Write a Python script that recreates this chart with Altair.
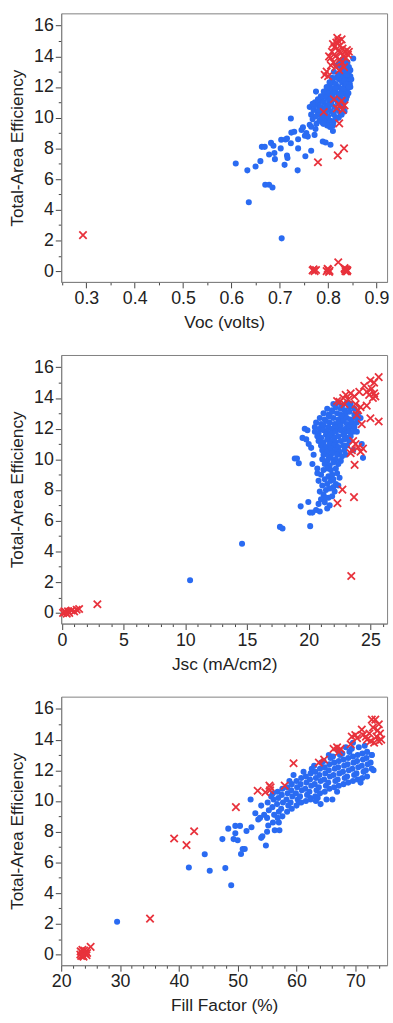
import altair as alt
import pandas as pd

# ---------------- Panel 1: Voc vs efficiency ----------------
blue_voc_pts = [
    (0.609, 7.02), (0.633, 6.57), (0.636, 4.49), (0.650, 6.82), (0.660, 7.17), (0.663, 8.1),
    (0.669, 8.1), (0.670, 5.63), (0.678, 5.63), (0.685, 5.45), (0.678, 7.6), (0.682, 8.36),
    (0.687, 8.17), (0.689, 7.7), (0.690, 7.3), (0.703, 8.56), (0.702, 8.0), (0.704, 2.14),
    (0.710, 6.93), (0.712, 8.58), (0.715, 8.64), (0.715, 7.53), (0.716, 7.38), (0.723, 9.95),
    (0.723, 8.34), (0.724, 9.03), (0.730, 9.09), (0.737, 6.57), (0.738, 8.0), (0.738, 8.6),
    (0.745, 9.2), (0.748, 9.37), (0.752, 8.83), (0.753, 7.49), (0.755, 9.0), (0.758, 8.77),
    (0.762, 9.54), (0.765, 7.85), (0.765, 9.41), (0.772, 8.88), (0.774, 9.26), (0.775, 11.7),
    (0.779, 10.2), (0.782, 10.7), (0.786, 9.84), (0.789, 8.45), (0.795, 8.39), (0.799, 9.73),
    (0.805, 8.24), (0.810, 9.13), (0.852, 13.86), (0.844, 12.7), (0.846, 12.0),
    (0.762, 10.7), (0.765, 10.2), (0.768, 9.9), (0.770, 10.5), (0.772, 10.8), (0.775, 10.1),
    (0.776, 9.6), (0.778, 10.4), (0.780, 11.0), (0.782, 9.8), (0.783, 10.3), (0.785, 10.7),
    (0.786, 11.2), (0.788, 9.7), (0.789, 10.1), (0.790, 10.5), (0.791, 11.0), (0.792, 11.5),
    (0.794, 9.9), (0.795, 10.3), (0.796, 10.8), (0.797, 11.3), (0.798, 11.8), (0.799, 9.6),
    (0.800, 10.1), (0.801, 10.6), (0.802, 11.1), (0.803, 11.6), (0.804, 12.0), (0.805, 9.8),
    (0.806, 10.4), (0.807, 10.9), (0.808, 11.4), (0.809, 11.9), (0.810, 12.3), (0.811, 9.7),
    (0.812, 10.2), (0.813, 10.7), (0.814, 11.2), (0.815, 11.7), (0.816, 12.2), (0.817, 12.6),
    (0.818, 10.0), (0.819, 10.5), (0.820, 11.0), (0.821, 11.5), (0.822, 12.0), (0.823, 12.5),
    (0.824, 12.9), (0.825, 10.3), (0.826, 10.8), (0.827, 11.3), (0.828, 11.8), (0.829, 12.3),
    (0.830, 12.8), (0.831, 13.2), (0.832, 10.6), (0.833, 11.1), (0.834, 11.6), (0.835, 12.1),
    (0.836, 12.6), (0.837, 13.0), (0.838, 13.4), (0.839, 11.4), (0.840, 11.9), (0.841, 12.4),
    (0.842, 12.9), (0.843, 13.3), (0.845, 12.2), (0.846, 12.7), (0.848, 12.5), (0.812, 13.0),
    (0.818, 13.4), (0.824, 13.6), (0.830, 13.8), (0.835, 13.5), (0.808, 12.6), (0.803, 12.3),
    (0.797, 12.0), (0.791, 11.7), (0.785, 11.4), (0.779, 11.2), (0.773, 11.0), (0.768, 10.9),
    (0.815, 9.9), (0.822, 10.0), (0.828, 10.2), (0.834, 10.4), (0.810, 9.5), (0.804, 9.4),
    (0.798, 9.5), (0.790, 9.6),
    (0.827, 12.6), (0.833, 12.4), (0.839, 12.8), (0.821, 12.8), (0.816, 11.9), (0.826, 11.6),
    (0.831, 11.9), (0.837, 12.2), (0.843, 12.0), (0.811, 11.6), (0.806, 11.2), (0.800, 10.8),
    (0.794, 10.6), (0.787, 10.0), (0.781, 10.5), (0.819, 11.2), (0.825, 11.0), (0.831, 10.9),
    (0.837, 11.2), (0.842, 11.6), (0.846, 13.1), (0.840, 13.6), (0.834, 13.1), (0.828, 13.3),
]
red_voc_pts = [
    (0.293, 2.35),
    (0.768, 0.05), (0.772, 0.0), (0.775, 0.08), (0.770, 0.12), (0.797, 0.0), (0.800, 0.1),
    (0.803, 0.02), (0.799, 0.15), (0.802, -0.05), (0.821, 0.58), (0.834, 0.2), (0.836, 0.0),
    (0.838, 0.1), (0.840, 0.05), (0.835, 0.12), (0.839, -0.02),
    (0.779, 7.1), (0.820, 7.55), (0.833, 8.0), (0.823, 9.63), (0.791, 10.37), (0.818, 10.6),
    (0.822, 10.9), (0.828, 11.1), (0.834, 10.8), (0.812, 11.2), (0.830, 10.5),
    (0.793, 12.8), (0.797, 13.0), (0.800, 12.7), (0.805, 13.9), (0.808, 14.3), (0.811, 13.6),
    (0.813, 14.6), (0.815, 14.0), (0.817, 14.9), (0.819, 15.2), (0.821, 15.0), (0.822, 14.4),
    (0.824, 13.8), (0.825, 14.7), (0.826, 14.2), (0.828, 15.1), (0.829, 13.6), (0.830, 14.5),
    (0.832, 14.0), (0.833, 13.3), (0.835, 14.3), (0.837, 13.9), (0.839, 14.4), (0.841, 14.1),
    (0.816, 13.3), (0.823, 13.1), (0.810, 14.8), (0.806, 13.4), (0.843, 14.3), (0.802, 14.0),
]

# ---------------- Panel 2: Jsc vs efficiency ----------------
blue_jsc_pts = [
    # dense core, row by row
    (22.0, 13.6), (22.4, 13.7), (22.7, 13.5), (23.1, 13.7), (23.4, 13.6),
    (21.5, 13.3), (21.9, 13.2), (22.2, 13.4), (22.6, 13.3), (22.9, 13.2), (23.3, 13.4), (23.7, 13.3),
    (21.2, 13.0), (21.6, 12.9), (21.9, 13.1), (22.3, 13.0), (22.6, 12.9), (23.0, 13.0),
    (23.3, 13.1), (23.7, 12.9), (24.0, 13.0),
    (20.9, 12.7), (21.3, 12.6), (21.7, 12.8), (22.0, 12.7), (22.4, 12.6), (22.7, 12.8),
    (23.1, 12.7), (23.4, 12.6), (23.8, 12.7),
    (20.6, 12.4), (21.0, 12.3), (21.4, 12.5), (21.7, 12.4), (22.1, 12.3), (22.4, 12.4),
    (22.8, 12.5), (23.1, 12.3), (23.5, 12.4), (23.9, 12.4),
    (20.5, 12.1), (20.9, 12.0), (21.2, 12.2), (21.6, 12.1), (21.9, 12.0), (22.3, 12.1),
    (22.6, 12.2), (23.0, 12.0), (23.3, 12.1), (23.7, 12.1),
    (20.5, 11.8), (20.8, 11.7), (21.2, 11.9), (21.5, 11.8), (21.9, 11.7), (22.2, 11.8),
    (22.6, 11.9), (22.9, 11.7), (23.3, 11.8), (23.6, 11.8),
    (20.7, 11.5), (21.0, 11.4), (21.4, 11.6), (21.7, 11.5), (22.1, 11.4), (22.4, 11.5),
    (22.8, 11.6), (23.1, 11.4), (23.4, 11.5),
    (20.8, 11.2), (21.2, 11.1), (21.5, 11.3), (21.9, 11.2), (22.2, 11.1), (22.6, 11.2),
    (22.9, 11.3), (23.3, 11.2),
    (21.0, 10.9), (21.4, 10.8), (21.7, 11.0), (22.1, 10.9), (22.4, 10.8), (22.8, 10.9), (23.1, 10.9),
    (21.1, 10.6), (21.5, 10.5), (21.8, 10.7), (22.2, 10.6), (22.5, 10.5), (22.9, 10.6),
    (21.2, 10.3), (21.6, 10.2), (21.9, 10.4), (22.3, 10.3), (22.7, 10.2), (23.0, 10.3),
    (21.1, 10.0), (21.5, 9.9), (21.8, 10.1), (22.2, 10.0), (22.6, 9.9),
    (21.3, 9.7), (21.7, 9.6), (22.0, 9.8), (22.4, 9.7),
    (21.5, 9.4), (21.8, 9.3), (22.2, 9.4),
    # lower tail
    (21.0, 9.0), (21.3, 8.7), (21.5, 8.4), (21.4, 8.0), (21.2, 7.7), (21.0, 7.4),
    (20.9, 7.9), (21.6, 8.9), (21.8, 8.6), (21.1, 8.3), (20.8, 7.1), (20.6, 6.7),
    (20.9, 6.6), (21.3, 7.2), (21.6, 7.5), (22.0, 8.2), (21.9, 7.6), (22.2, 8.4),
    (22.5, 8.8), (21.7, 7.0), (22.4, 8.3), (21.7, 8.1), (21.9, 9.0),
    (21.2, 9.3), (20.8, 8.6), (20.7, 9.1), (21.4, 7.5), (22.1, 7.9), (21.5, 6.8),
    (22.3, 9.1), (22.0, 8.7),
    # scattered
    (10.39, 2.12), (14.6, 4.5), (17.67, 5.6), (17.88, 5.5), (20.12, 5.65), (19.35, 6.94),
    (19.97, 7.22), (20.1, 6.53), (20.3, 6.53), (18.87, 10.06), (19.05, 10.06), (19.2, 9.75),
    (19.68, 12.0), (19.5, 11.4), (19.8, 11.3), (20.2, 10.75), (20.3, 9.7), (24.4, 10.1),
    (23.9, 11.8), (24.2, 12.7), (19.9, 11.9), (20.0, 11.0), (24.3, 11.0), (23.6, 10.6),
    (20.4, 10.3), (20.7, 9.4),
]
red_jsc_pts = [
    (0.1, 0.0), (0.3, 0.05), (0.5, 0.1), (0.6, 0.0), (0.8, 0.15), (1.0, 0.1), (1.2, 0.2),
    (1.4, 0.25), (0.4, -0.05), (0.2, 0.1), (2.88, 0.56),
    (23.45, 2.4), (22.33, 7.15), (22.73, 8.03), (23.67, 7.54), (23.72, 9.64), (24.4, 10.7),
    (23.5, 10.6), (23.8, 11.0), (24.0, 10.8), (24.2, 10.5), (23.6, 11.2), (23.4, 10.4),
    (22.3, 13.8), (22.5, 13.75), (22.8, 14.0), (23.0, 14.2), (23.4, 14.3), (23.7, 14.1),
    (23.8, 13.6), (23.9, 12.9), (24.2, 13.4), (24.1, 14.4), (24.5, 14.8), (24.7, 14.4),
    (24.7, 13.5), (24.9, 14.2), (25.0, 15.14), (25.1, 14.6), (25.2, 14.0), (25.3, 14.3),
    (25.4, 14.1), (25.67, 15.36), (25.0, 12.68), (25.67, 12.47), (24.3, 12.3), (24.0, 13.2),
    (25.3, 15.0), (22.9, 13.6), (23.2, 13.9),
]

# ---------------- Panel 3: Fill factor vs efficiency ----------------
blue_ff_pts = [
    # main band, column by column
    (55.2, 8.4), (55.0, 8.9), (55.3, 9.4), (55.1, 9.9),
    (56.0, 8.6), (56.2, 9.1), (55.9, 9.6), (56.1, 10.1), (56.0, 10.5),
    (56.8, 8.9), (57.0, 9.3), (56.7, 9.8), (56.9, 10.2), (56.8, 10.6),
    (57.6, 9.0), (57.4, 9.5), (57.7, 9.9), (57.5, 10.4), (57.6, 10.8),
    (58.4, 9.3), (58.6, 9.7), (58.3, 10.1), (58.5, 10.5), (58.4, 10.9),
    (59.2, 9.5), (59.0, 9.9), (59.3, 10.3), (59.1, 10.7), (59.2, 11.1),
    (60.0, 9.7), (60.2, 10.1), (59.9, 10.5), (60.1, 10.9), (60.0, 11.3),
    (60.8, 9.9), (60.6, 10.3), (60.9, 10.7), (60.7, 11.1), (60.8, 11.5),
    (61.6, 10.0), (61.8, 10.4), (61.5, 10.8), (61.7, 11.2), (61.6, 11.6),
    (62.4, 10.2), (62.2, 10.6), (62.5, 11.0), (62.3, 11.4), (62.4, 11.8), (62.6, 12.1),
    (63.2, 10.3), (63.4, 10.7), (63.1, 11.1), (63.3, 11.5), (63.2, 11.9), (63.0, 12.3),
    (64.0, 10.5), (63.8, 10.9), (64.1, 11.3), (63.9, 11.7), (64.0, 12.1), (64.2, 12.5),
    (64.8, 10.6), (65.0, 11.0), (64.7, 11.4), (64.9, 11.8), (64.8, 12.2), (64.6, 12.6),
    (65.6, 10.8), (65.4, 11.2), (65.7, 11.6), (65.5, 12.0), (65.6, 12.4), (65.8, 12.8),
    (66.4, 10.9), (66.6, 11.3), (66.3, 11.7), (66.5, 12.1), (66.4, 12.5), (66.2, 12.9),
    (67.2, 11.0), (67.0, 11.4), (67.3, 11.8), (67.1, 12.2), (67.2, 12.6), (67.4, 13.0),
    (68.0, 11.1), (68.2, 11.5), (67.9, 11.9), (68.1, 12.3), (68.0, 12.7), (67.8, 13.1),
    (68.8, 11.2), (68.6, 11.6), (68.9, 12.0), (68.7, 12.4), (68.8, 12.8), (69.0, 13.2),
    (69.6, 11.3), (69.8, 11.7), (69.5, 12.1), (69.7, 12.5), (69.6, 12.9), (69.4, 13.4),
    (70.4, 11.4), (70.2, 11.8), (70.5, 12.2), (70.3, 12.6), (70.4, 13.0), (70.6, 13.5),
    (71.2, 11.5), (71.4, 11.9), (71.1, 12.3), (71.3, 12.7), (71.2, 13.1),
    (72.0, 11.6), (71.8, 12.0), (72.1, 12.4), (71.9, 12.8), (72.0, 13.2),
    (72.8, 12.1), (72.6, 12.5), (72.8, 13.0),
    # loose points around the band
    (53.0, 9.2), (53.5, 8.8), (54.0, 9.7), (54.2, 7.7), (54.5, 9.1), (54.8, 7.1), (55.0, 8.0),
    (55.7, 10.3), (56.3, 8.1), (57.1, 8.1), (57.0, 8.6), (59.5, 11.7), (62.4, 10.1),
    (63.3, 10.0), (64.1, 9.8), (65.1, 10.1), (66.1, 10.1), (69.6, 13.8), (68.4, 13.5),
    (67.0, 13.3), (65.5, 13.0), (70.8, 11.4), (72.8, 13.0), (71.6, 13.6), (70.9, 11.2),
    (66.9, 10.6), (61.2, 11.9), (58.8, 11.3), (63.6, 10.2), (60.4, 9.9), (73.1, 12.0),
    (29.5, 2.13), (41.7, 5.67), (44.4, 6.53), (45.25, 5.46), (47.9, 5.63), (48.9, 4.51),
    (47.4, 7.52), (48.4, 8.2), (49.3, 7.52), (49.6, 7.9), (49.6, 8.38), (50.0, 7.44),
    (50.4, 8.38), (50.85, 6.87), (50.57, 6.55), (51.2, 6.87), (51.5, 8.05), (52.2, 10.1),
    (52.35, 8.29), (54.0, 7.6), (53.8, 8.9),
]
red_ff_pts = [
    (23.25, 0.0), (23.5, 0.15), (23.7, -0.1), (23.9, 0.25), (24.1, 0.05), (24.3, -0.05),
    (23.6, 0.3), (24.0, 0.1), (23.4, -0.1), (24.2, 0.2), (25.0, 0.5), (35.1, 2.34),
    (23.3, 0.2), (23.8, -0.15), (24.4, 0.1), (23.6, -0.05),
    (39.2, 7.56), (41.3, 7.13), (42.6, 8.03), (49.7, 9.6), (53.4, 10.67), (54.7, 10.57),
    (55.4, 11.0), (55.6, 10.9), (55.5, 10.7), (58.0, 11.0), (59.5, 12.46), (63.8, 12.5),
    (64.7, 12.7), (66.3, 13.4), (66.9, 13.5), (67.2, 13.2), (67.5, 13.4), (69.2, 13.7),
    (69.4, 14.2), (70.0, 14.3), (70.3, 14.1), (71.1, 14.65), (71.3, 14.3), (72.0, 14.0),
    (72.4, 14.4), (72.8, 15.3), (73.4, 15.3), (73.0, 14.8), (73.6, 14.2), (73.8, 14.6),
    (74.0, 13.9), (74.2, 14.4), (74.4, 14.0), (73.2, 13.8), (72.6, 13.9), (71.8, 14.2),
    (74.0, 15.0),
]

# axis tick positions (major + minor)
voc_ticks = [round(0.25 + 0.05 * i, 2) for i in range(14)]
jsc_ticks = list(range(0, 27))
ff_ticks = list(range(20, 76, 2))
eff_ticks = list(range(0, 17))

BLUE = "#2a6bf2"
RED = "#e8323c"
FONT = "Liberation Sans"
TXT = "#222222"
X_SHAPE = "M-1,-1L1,1M-1,1L1,-1"

W, H = 330, 272


def frame(pts):
    return pd.DataFrame({"x": [p[0] for p in pts], "eff": [p[1] for p in pts]})


def panel(bpts, rpts, title, domain, ticks, major_test, fmt):
    xaxis = alt.Axis(
        title=title, values=ticks, format=fmt, grid=False,
        labelExpr=f"({major_test}) ? datum.label : ''",
        tickSize={"condition": {"test": major_test, "value": 6}, "value": 3},
        labelOverlap=False, labelFlush=False,
        labelFont=FONT, labelFontSize=18, labelColor=TXT, labelPadding=2,
        titleFont=FONT, titleFontSize=17.5, titleFontWeight="normal", titleColor=TXT,
        titlePadding=6, domainColor="#808080", tickColor="#444444",
    )
    ytest = "datum.value % 2 === 0"
    yaxis = alt.Axis(
        title="Total-Area Efficiency", values=eff_ticks, format="d", grid=False,
        labelExpr=f"({ytest}) ? datum.label : ''",
        tickSize={"condition": {"test": ytest, "value": 6}, "value": 3},
        labelOverlap=False, labelFlush=False,
        labelFont=FONT, labelFontSize=18, labelColor=TXT, labelPadding=2,
        titleFont=FONT, titleFontSize=17.5, titleFontWeight="normal", titleColor=TXT,
        titlePadding=7, domainColor="#808080", tickColor="#444444",
    )
    xs = alt.X("x:Q", scale=alt.Scale(domain=domain, nice=False, zero=False), axis=xaxis)
    ys = alt.Y("eff:Q", scale=alt.Scale(domain=[-0.7, 16.8], nice=False, zero=False), axis=yaxis)
    blue = alt.Chart(frame(bpts)).mark_circle(size=38, color=BLUE, opacity=1).encode(x=xs, y=ys)
    red = alt.Chart(frame(rpts)).mark_point(
        shape=X_SHAPE, size=56, color=RED, filled=False, strokeWidth=1.8, opacity=1
    ).encode(x=xs, y=ys)
    return alt.layer(blue, red).properties(width=W, height=H)


p1 = panel(blue_voc_pts, red_voc_pts, "Voc (volts)", [0.248, 0.922], voc_ticks,
           "round(datum.value * 100) % 10 === 0", ".1f")
p2 = panel(blue_jsc_pts, red_jsc_pts, "Jsc (mA/cm2)", [-0.05, 26.35], jsc_ticks,
           "datum.value % 5 === 0", "d")
p3 = panel(blue_ff_pts, red_ff_pts, "Fill Factor (%)", [20, 75.4], ff_ticks,
           "datum.value % 10 === 0", "d")

chart = alt.vconcat(p1, p2, p3, spacing=74).properties(
    bounds="flush",
    padding={"left": 8, "top": 6, "right": 3, "bottom": 4},
    background="white",
).configure_view(stroke="#808080", strokeWidth=1)

chart.save("out.html", embed_options={"renderer": "svg", "actions": False})
